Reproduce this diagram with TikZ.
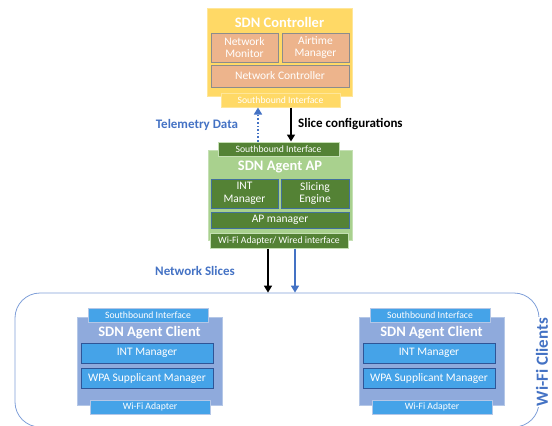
\documentclass[tikz,border=0pt]{standalone}
\usepackage{fontspec}
\setmainfont{Carlito}
\usepackage{xcolor}
\usetikzlibrary{arrows.meta}
\newcommand{\picwidth}{552}
\newcommand{\picheight}{426}
\definecolor{ctlbg}{HTML}{FFD966}
\definecolor{ctledge}{HTML}{FFE699}
\definecolor{ctlinner}{HTML}{EDB48C}
\definecolor{ctlinneredge}{HTML}{8C8C8C}
\definecolor{apbg}{HTML}{A9D18E}
\definecolor{apedge}{HTML}{C5E0B4}
\definecolor{apinner}{HTML}{548235}
\definecolor{apinneredge}{HTML}{41719C}
\definecolor{clbg}{HTML}{8FAADC}
\definecolor{cledge}{HTML}{B4C7E7}
\definecolor{clinner}{HTML}{45A3E8}
\definecolor{clinneredge}{HTML}{2F5597}
\definecolor{labelblue}{HTML}{4472C4}
\definecolor{bubbleline}{HTML}{7F9FD8}

\tikzset{
  card/.style={draw, line width=1pt, inner sep=0pt, align=center, text=white},
  title/.style={text=white, font=\bfseries\fontsize{14.5}{16}\selectfont},
  inner/.style={font=\fontsize{11.5}{12.5}\selectfont},
  tab/.style={font=\fontsize{9.7}{10}\selectfont},
  flow/.style={line width=1.6pt, -{Triangle[width=8pt,length=7pt]}},
}

\begin{document}
\begin{tikzpicture}[x=1pt, y=-1pt]
  \useasboundingbox (0,0) rectangle (\picwidth,\picheight);

  % === SDN CONTROLLER ===
  \node[card, fill=ctlbg, draw=ctledge, minimum width=145, minimum height=88] (ctl) at (279.5,52) {};
  \node[title] (ctltitle) at (279.5,22) {SDN Controller};
  \node[card, inner, fill=ctlinner, draw=ctlinneredge, minimum width=67, minimum height=29] (netmon) at (244.5,47.5) {Network\\Monitor};
  \node[card, inner, fill=ctlinner, draw=ctlinneredge, minimum width=67, minimum height=29] (airtime) at (315.5,47.5) {Airtime\\Manager};
  \node[card, inner, fill=ctlinner, draw=ctlinneredge, minimum width=138, minimum height=22] (netctl) at (280,76) {Network Controller};
  \node[card, tab, fill=ctlbg, draw=ctledge, minimum width=119, minimum height=14] (ctlsb) at (280.5,100) {Southbound Interface};

  % === SDN AGENT AP ===
  \node[card, fill=apbg, draw=apedge, minimum width=144, minimum height=90] (ap) at (280,195) {};
  \node[card, tab, fill=apinner, draw=apedge, minimum width=121, minimum height=14] (apsb) at (278.5,149) {Southbound Interface};
  \node[title] (aptitle) at (280,167) {SDN Agent AP};
  \node[card, inner, fill=apinner, draw=apinneredge, minimum width=67, minimum height=29] (intmgr) at (244.5,193.5) {INT\\Manager};
  \node[card, inner, fill=apinner, draw=apinneredge, minimum width=68, minimum height=29] (slicing) at (315,193.5) {Slicing\\Engine};
  \node[card, inner, fill=apinner, draw=apinneredge, minimum width=138, minimum height=16] (apmgr) at (280,220) {AP manager};
  \node[card, tab, fill=apinner, draw=apedge, minimum width=138, minimum height=15] (apwifi) at (279,240.5) {Wi-Fi Adapter/ Wired interface};

  % Controller <-> AP
  \coordinate (telex) at (258,0);
  \coordinate (slicex) at (291,0);
  \draw[flow, labelblue, dotted] (apsb.north -| telex) -- (ctlsb.south -| telex);
  \draw[flow, black] (ctlsb.south -| slicex) -- (apsb.north -| slicex);
  \node[text=labelblue, font=\bfseries\fontsize{13}{15}\selectfont] (telelabel) at (197,125) {Telemetry Data};
  \node[anchor=west, inner sep=0pt, font=\bfseries\fontsize{13}{15}\selectfont] (slicelabel) at (298,124) {Slice configurations};

  % === WI-FI CLIENTS ===
  \node[draw=bubbleline, line width=0.8pt, rounded corners=25pt, minimum width=524, minimum height=134] (clients) at (277,360) {};
  \node[rotate=90, fill=white, inner sep=1pt, text=labelblue, font=\bfseries\fontsize{17}{18}\selectfont] (clientslabel) at (542,362) {Wi-Fi Clients};

  % Network slices
  \coordinate (blackx) at (268,0);
  \coordinate (bluex) at (295,0);
  \draw[flow, black] (apwifi.south -| blackx) -- (clients.north -| blackx);
  \draw[flow, labelblue] (apwifi.south -| bluex) -- (clients.north -| bluex);
  \node[text=labelblue, font=\bfseries\fontsize{13}{15}\selectfont] (netslices) at (195,271) {Network Slices};

  \foreach \dx/\nm in {0/cla, 282/clb} {
    \begin{scope}[xshift=\dx]
      \node[card, fill=clbg, draw=cledge, minimum width=145, minimum height=88] (\nm) at (149.5,361) {};
      \node[card, tab, fill=clinner, draw=cledge, minimum width=120, minimum height=14] (\nm-sb) at (148,315) {Southbound Interface};
      \node[title] (\nm-title) at (149.5,333) {SDN Agent Client};
      \node[card, inner, fill=clinner, draw=clinneredge, minimum width=132, minimum height=20] (\nm-int) at (147,353) {INT Manager};
      \node[card, inner, fill=clinner, draw=clinneredge, minimum width=132, minimum height=20] (\nm-wpa) at (147,378) {WPA Supplicant Manager};
      \node[card, tab, fill=clinner, draw=cledge, minimum width=120, minimum height=14] (\nm-wifi) at (150,407) {Wi-Fi Adapter};
    \end{scope}
  }
\end{tikzpicture}
\end{document}
